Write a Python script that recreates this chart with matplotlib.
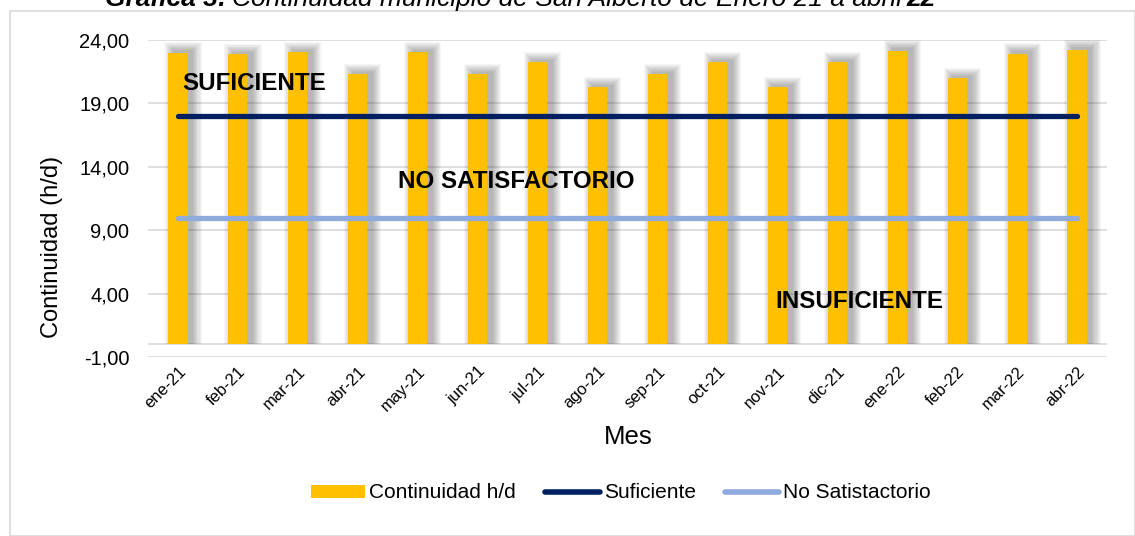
import matplotlib
matplotlib.use("Agg")
import matplotlib.pyplot as plt
import numpy as np
from matplotlib.patches import Rectangle, Patch
from matplotlib.lines import Line2D
from matplotlib.ticker import FuncFormatter

plt.rcParams['font.family'] = ['Liberation Sans', 'DejaVu Sans']

months = ['ene-21', 'feb-21', 'mar-21', 'abr-21', 'may-21', 'jun-21', 'jul-21', 'ago-21',
          'sep-21', 'oct-21', 'nov-21', 'dic-21', 'ene-22', 'feb-22', 'mar-22', 'abr-22']
continuidad = [23.0, 22.87, 23.03, 21.3, 23.05, 21.3, 22.26, 20.29,
               21.3, 22.26, 20.29, 22.26, 23.16, 21.0, 22.9, 23.24]
suficiente = [18.0] * len(months)
no_satisfactorio = [10.0] * len(months)
yticks = [-1, 4, 9, 14, 19, 24]

W, H = 1135, 536
fig = plt.figure(figsize=(W / 100, H / 100), dpi=100)
fig.patch.set_facecolor('white')

# chart border
fig.patches.append(Rectangle((10 / W, 0), (W - 10) / W, (H - 11) / H, transform=fig.transFigure,
                             fill=False, edgecolor='#d9d9d9', linewidth=1.2))

ax = fig.add_axes([148 / W, 1 - 357 / H, (1107 - 148) / W, (357 - 40) / H])
x = np.arange(len(months))
vals = np.array(continuidad)
bw = 0.32

# soft blurred-looking shadows (offset to the right and slightly up)
for s in np.linspace(0.15, 0.01, 9):
    ax.bar(x + 0.085, vals + 0.15 + s * 4.5, width=bw + 2 * s, color='#303030', alpha=0.045,
           zorder=2, linewidth=0)
ax.bar(x, vals, width=bw, color='#ffc000', zorder=3, linewidth=0, label='Continuidad h/d')

ax.plot(x, suficiente, color='#002060', lw=3.8, solid_capstyle='round', zorder=4, label='Suficiente')
ax.plot(x, no_satisfactorio, color='#8faadc', lw=3.8, solid_capstyle='round', zorder=4,
        label='No Satistactorio')

ax.set_xlim(-0.5, len(months) - 0.5)
ax.set_ylim(-1, 24)
ax.set_yticks(yticks)
ax.yaxis.set_major_formatter(FuncFormatter(lambda v, p: f"{v:.2f}".replace('.', ',')))
ax.grid(axis='y', color='#d9d9d9', linewidth=1.2, zorder=0)
ax.axhline(0, color='#d9d9d9', linewidth=1.2, zorder=1)
for sp in ax.spines.values():
    sp.set_visible(False)
ax.tick_params(axis='both', length=0, colors='#000000')
ax.tick_params(axis='y', pad=13.5, labelsize=14.5)
ax.set_xticks(x)
ax.set_xticklabels(months, rotation=45, ha='right', va='top', rotation_mode='anchor', fontsize=12)
ax.tick_params(axis='x', pad=5)

fig.text(52 / W, 1 - 247 / H, 'Continuidad (h/d)', fontsize=17, rotation=90,
         ha='center', va='center')
fig.text(628 / W, 1 - 437 / H, 'Mes', fontsize=18.5, ha='center', va='center')

fig.text(182 / W, 1 - 84 / H, 'SUFICIENTE', fontsize=17.4, fontweight='bold', va='center', ha='left')
fig.text(398 / W, 1 - 181 / H, 'NO SATISFACTORIO', fontsize=17.4, fontweight='bold', va='center', ha='left')
fig.text(775 / W, 1 - 302 / H, 'INSUFICIENTE', fontsize=17.4, fontweight='bold', va='center', ha='left')

handles = [Patch(facecolor='#ffc000', edgecolor='none'),
           Line2D([0], [0], color='#002060', lw=4, solid_capstyle='round'),
           Line2D([0], [0], color='#8faadc', lw=4, solid_capstyle='round')]
fig.legend(handles, ['Continuidad h/d', 'Suficiente', 'No Satistactorio'], loc='center',
           bbox_to_anchor=(621 / W, 1 - 493 / H), ncol=3, frameon=False, fontsize=15,
           handlelength=2.6, handletextpad=0.2, columnspacing=1.4, handleheight=0.6,
           borderaxespad=0, borderpad=0)

# title (partly clipped at the top like the reference)
renderer = fig.canvas.get_renderer()
ty = 1 - 6 / H
t1 = fig.text(105 / W, ty, 'Gráfica 3:', fontsize=19, fontweight='bold', style='italic',
              ha='left', va='baseline')
bb = t1.get_window_extent(renderer=renderer)
t2 = fig.text((bb.x1 + 5) / W, ty, 'Continuidad municipio de San Alberto de Enero 21 a abril',
              fontsize=19, style='italic', ha='left', va='baseline')
bb2 = t2.get_window_extent(renderer=renderer)
fig.text((bb2.x1 + 5) / W, ty, '22', fontsize=19, fontweight='bold', style='italic',
         ha='left', va='baseline')

fig.savefig('out.png', dpi=100, facecolor='white')
